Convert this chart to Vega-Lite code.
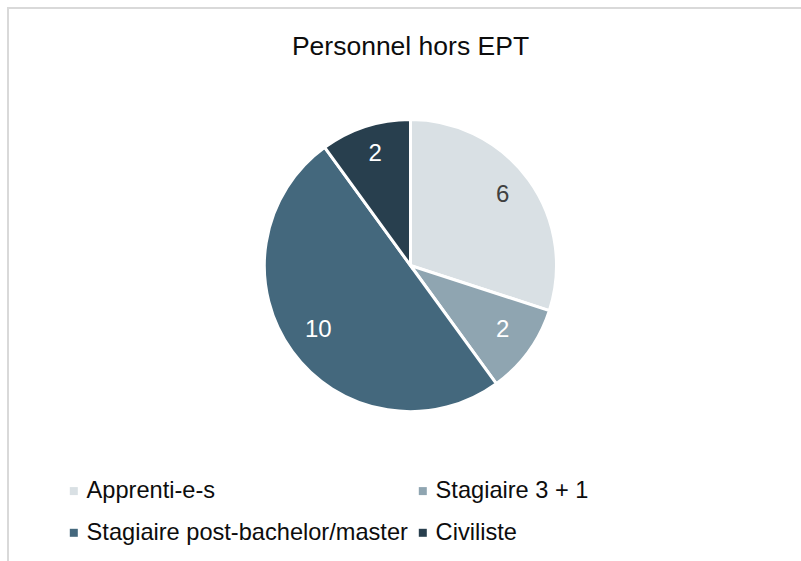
{
  "$schema": "https://vega.github.io/schema/vega-lite/v6.json",
  "autosize": "none",
  "width": 793,
  "height": 553,
  "padding": {"left": 8, "top": 8, "right": 0, "bottom": 0},
  "background": "white",
  "view": {"stroke": "#d9d9d9", "strokeWidth": 2, "strokeDash": [793, 1346, 553]},
  "config": {
    "font": "Liberation Sans"
  },
  "title": {
    "text": "Personnel hors EPT",
    "font": "Liberation Sans",
    "fontSize": 26.5,
    "fontWeight": "normal",
    "color": "#0d0d0d",
    "frame": "group",
    "anchor": "middle",
    "baseline": "alphabetic",
    "offset": -73,
    "dx": 6
  },
  "data": {
    "values": [
      {"cat": "Apprenti-e-s", "value": 6, "ord": 1},
      {"cat": "Stagiaire 3 + 1", "value": 2, "ord": 2},
      {"cat": "Stagiaire post-bachelor/master", "value": 10, "ord": 3},
      {"cat": "Civiliste", "value": 2, "ord": 4}
    ]
  },
  "encoding": {
    "theta": {"field": "value", "type": "quantitative", "stack": true},
    "order": {"field": "ord", "type": "quantitative"}
  },
  "layer": [
    {
      "mark": {"type": "arc", "outerRadius": 146, "stroke": "white", "strokeWidth": 3, "x": 402.5, "y": 257.5},
      "encoding": {
        "color": {
          "field": "cat",
          "type": "nominal",
          "sort": ["Apprenti-e-s", "Stagiaire 3 + 1", "Stagiaire post-bachelor/master", "Civiliste"],
          "scale": {
            "domain": ["Apprenti-e-s", "Stagiaire 3 + 1", "Stagiaire post-bachelor/master", "Civiliste"],
            "range": ["#d9e0e4", "#8fa5b1", "#44687d", "#283f4e"]
          },
          "legend": {
            "title": null,
            "orient": "none",
            "legendX": 54,
            "legendY": 471,
            "columns": 2,
            "direction": "horizontal",
            "symbolType": "square",
            "symbolSize": 64,
            "symbolStrokeWidth": 0,
            "labelFont": "Liberation Sans",
            "labelFontSize": 23.6,
            "labelColor": "#0d0d0d",
            "labelOffset": 1,
            "labelLimit": 0,
            "rowPadding": 17,
            "columnPadding": 3,
            "padding": 0
          }
        }
      }
    },
    {
      "mark": {"type": "text", "radius": 114, "fontSize": 24, "font": "Liberation Sans", "x": 402.5, "y": 257.5, "dy": -3},
      "encoding": {
        "text": {"field": "value", "type": "quantitative"},
        "color": {
          "condition": {"test": "datum.cat === 'Apprenti-e-s'", "value": "#404040"},
          "value": "white"
        }
      }
    }
  ]
}
